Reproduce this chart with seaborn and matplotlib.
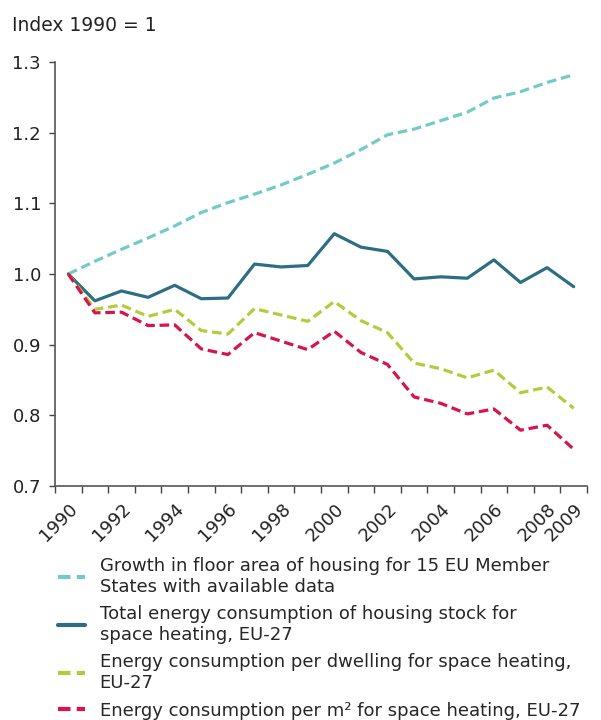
import matplotlib
matplotlib.use("Agg")
import pandas as pd
import seaborn as sns
import matplotlib.pyplot as plt

sns.set_style("ticks")
plt.rcParams["font.family"] = ["DejaVu Sans"]

years = list(range(1990, 2010))

floor_area = [1.000, 1.018, 1.035, 1.051, 1.068, 1.087, 1.101, 1.113, 1.126, 1.141,
              1.157, 1.176, 1.197, 1.205, 1.217, 1.229, 1.249, 1.258, 1.271, 1.282]
total_energy = [1.000, 0.962, 0.976, 0.967, 0.984, 0.965, 0.966, 1.014, 1.010, 1.012,
                1.057, 1.038, 1.032, 0.993, 0.996, 0.994, 1.020, 0.988, 1.009, 0.982]
per_dwelling = [1.000, 0.950, 0.956, 0.940, 0.950, 0.920, 0.915, 0.951, 0.942, 0.933,
                0.961, 0.934, 0.917, 0.874, 0.866, 0.853, 0.864, 0.832, 0.840, 0.810]
per_m2 = [1.000, 0.945, 0.946, 0.927, 0.928, 0.894, 0.886, 0.917, 0.905, 0.893,
          0.919, 0.889, 0.872, 0.826, 0.817, 0.802, 0.809, 0.779, 0.786, 0.752]

labels = [
    "Growth in floor area of housing for 15 EU Member\nStates with available data",
    "Total energy consumption of housing stock for\nspace heating, EU-27",
    "Energy consumption per dwelling for space heating,\nEU-27",
    "Energy consumption per m\u00b2 for space heating, EU-27",
]
colors = ["#72cbc6", "#2e6e84", "#b6cb3c", "#d8154b"]
styles = [(3, 1.5), "", (3, 1.5), (3, 1.5)]
tick_years = [1990, 1992, 1994, 1996, 1998, 2000, 2002, 2004, 2006, 2008, 2009]

series = [floor_area, total_energy, per_dwelling, per_m2]
df = pd.concat([
    pd.DataFrame({"pos": range(len(years)), "value": vals, "series": lab})
    for vals, lab in zip(series, labels)
])

fig = plt.figure(figsize=(6.01, 7.2), dpi=100)
ax = fig.add_axes([55 / 601, 1 - 486 / 720, (587 - 55) / 601, (486 - 62) / 720])

sns.lineplot(
    data=df, x="pos", y="value", hue="series", style="series",
    palette=dict(zip(labels, colors)), dashes=dict(zip(labels, styles)),
    linewidth=2.3, ax=ax, legend=False,
)

ax.set_xlim(-0.5, len(years) - 0.5)
ax.set_ylim(0.7, 1.3)
ax.set_yticks([0.7, 0.8, 0.9, 1.0, 1.1, 1.2, 1.3])
ax.set_yticklabels([f"{v:.1f}" for v in ax.get_yticks()], fontsize=13, color="#222222")
ax.tick_params(axis="y", length=4, width=1, color="#444444", pad=6)

# tick marks between categories, labels at category centres
ax.set_xticks([i - 0.5 for i in range(len(years) + 1)])
ax.set_xticklabels([])
ax.tick_params(axis="x", which="major", length=5, width=1, color="#444444")
ax.set_xticks([years.index(y) for y in tick_years], minor=True)
ax.set_xticklabels([str(y) for y in tick_years], minor=True, rotation=45,
                   ha="right", rotation_mode="anchor", fontsize=13, color="#222222")
ax.tick_params(axis="x", which="minor", length=0, pad=10)

ax.set_xlabel("")
ax.set_ylabel("")
sns.despine(ax=ax)
for s in ["left", "bottom"]:
    ax.spines[s].set_color("#555555")
    ax.spines[s].set_linewidth(1.2)

fig.text(12 / 601, 1 - 31 / 720, "Index 1990 = 1", fontsize=13.5, color="#222222",
         va="baseline")

handles = [
    plt.Line2D([], [], color=c, linewidth=3,
               linestyle=(0, st) if st else "-")
    for c, st in zip(colors, styles)
]
fig.legend(handles, labels, loc="upper left", bbox_to_anchor=(58 / 601, 1 - 557 / 720),
           frameon=False, fontsize=13, handlelength=1.5, handletextpad=0.8,
           labelspacing=0.52, borderaxespad=0, borderpad=0)

fig.savefig("out.png", dpi=100)
